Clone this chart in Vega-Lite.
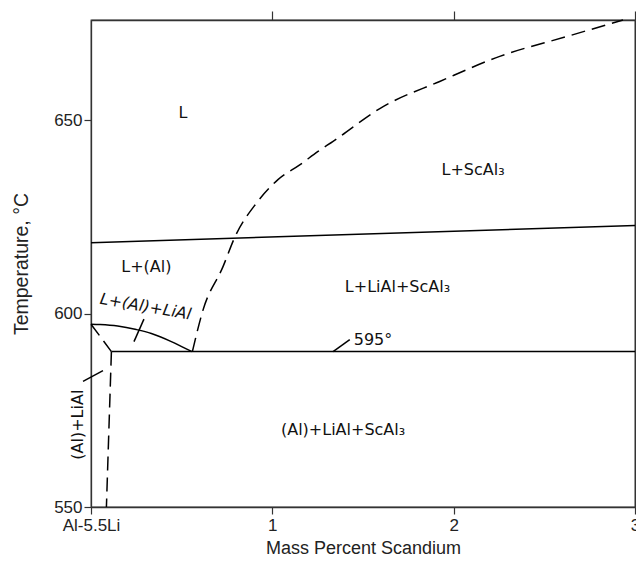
{
  "$schema": "https://vega.github.io/schema/vega-lite/v6.json",
  "width": 544,
  "height": 487,
  "autosize": {"type": "none"},
  "padding": {"left": 91, "top": 20, "right": 1, "bottom": 55},
  "background": "white",
  "config": {
    "view": {"stroke": "#444", "strokeWidth": 1.3},
    "font": "Liberation Sans",
    "axis": {"grid": false, "domainColor": "#333", "tickColor": "#333", "labelColor": "#222", "titleColor": "#222", "labelFont": "Liberation Sans", "titleFont": "Liberation Sans", "titleFontWeight": "normal", "labelFontSize": 17, "titleFontSize": 18, "tickSize": 7, "domainWidth": 1.3, "tickWidth": 1.2}
  },
  "datasets": {
    "solid": [
      {"c": "top", "i": 0, "x": 0, "y": 618.4},
      {"c": "top", "i": 1, "x": 3, "y": 622.8},
      {"c": "eut", "i": 0, "x": 0.1125, "y": 590.2},
      {"c": "eut", "i": 1, "x": 3, "y": 590.2},
      {"c": "liqAl", "i": 0, "x": 0, "y": 597.3},
      {"c": "liqAl", "i": 1, "x": 0.05, "y": 597.2},
      {"c": "liqAl", "i": 2, "x": 0.147, "y": 596.8},
      {"c": "liqAl", "i": 3, "x": 0.25, "y": 595.9},
      {"c": "liqAl", "i": 4, "x": 0.333, "y": 594.9},
      {"c": "liqAl", "i": 5, "x": 0.443, "y": 592.8},
      {"c": "liqAl", "i": 6, "x": 0.5, "y": 591.5},
      {"c": "liqAl", "i": 7, "x": 0.557, "y": 590.2},
      {"c": "lead1", "i": 0, "x": 0.292, "y": 598.6},
      {"c": "lead1", "i": 1, "x": 0.237, "y": 592.8},
      {"c": "lead2", "i": 0, "x": 1.335, "y": 590.2},
      {"c": "lead2", "i": 1, "x": 1.427, "y": 593.3},
      {"c": "lead3", "i": 0, "x": -0.044, "y": 582.5},
      {"c": "lead3", "i": 1, "x": 0.066, "y": 585.3}
    ],
    "dashed": [
      {"c": "d1", "i": 0, "x": 0, "y": 597.3},
      {"c": "d1", "i": 1, "x": 0.1125, "y": 590.2},
      {"c": "d2", "i": 0, "x": 0.1125, "y": 590.2},
      {"c": "d2", "i": 1, "x": 0.085, "y": 550},
      {"c": "liq", "i": 0, "x": 0.559, "y": 590.2},
      {"c": "liq", "i": 1, "x": 0.618, "y": 601.0},
      {"c": "liq", "i": 2, "x": 0.728, "y": 612.2},
      {"c": "liq", "i": 3, "x": 0.793, "y": 619.8},
      {"c": "liq", "i": 4, "x": 0.912, "y": 628.6},
      {"c": "liq", "i": 5, "x": 1.031, "y": 634.7},
      {"c": "liq", "i": 6, "x": 1.151, "y": 638.5},
      {"c": "liq", "i": 7, "x": 1.252, "y": 642.0},
      {"c": "liq", "i": 8, "x": 1.335, "y": 644.6},
      {"c": "liq", "i": 9, "x": 1.611, "y": 653.6},
      {"c": "liq", "i": 10, "x": 1.923, "y": 660.1},
      {"c": "liq", "i": 11, "x": 2.254, "y": 666.6},
      {"c": "liq", "i": 12, "x": 2.622, "y": 671.7},
      {"c": "liq", "i": 13, "x": 2.934, "y": 676.0}
    ],
    "labels": [
      {"t": "L", "x": 0.507, "y": 652.0},
      {"t": "L+ScAl₃", "x": 2.107, "y": 637.2},
      {"t": "L+(Al)", "x": 0.305, "y": 612.2},
      {"t": "L+LiAl+ScAl₃", "x": 1.69, "y": 607.0},
      {"t": "595°", "x": 1.555, "y": 593.1},
      {"t": "(Al)+LiAl+ScAl₃", "x": 1.39, "y": 570.0}
    ],
    "rotlabels": [
      {"t": "L+(Al)+LiAl", "x": 0.301, "y": 601.8}
    ],
    "vlabels": [
      {"t": "(Al)+LiAl", "x": -0.072, "y": 571.3}
    ]
  },
  "layer": [
    {
      "data": {"name": "solid"},
      "mark": {"type": "line", "color": "black", "strokeWidth": 1.5, "interpolate": "monotone", "clip": false},
      "encoding": {
        "x": {"field": "x", "type": "quantitative", "scale": {"domain": [0, 3], "nice": false, "zero": false},
          "axis": {"orient": "bottom", "values": [0, 1, 2, 3], "title": "Mass Percent Scandium", "titlePadding": 6, "labelPadding": 3,
            "labelExpr": "datum.value == 0 ? 'Al-5.5Li' : format(datum.value, 'd')", "labelFlush": false}},
        "y": {"field": "y", "type": "quantitative", "scale": {"domain": [550, 676], "nice": false, "zero": false},
          "axis": {"orient": "left", "values": [550, 600, 650], "title": "Temperature, °C", "titleFontSize": 19.5, "titlePadding": 22, "labelPadding": 2}},
        "detail": {"field": "c"},
        "order": {"field": "i"}
      }
    },
    {
      "data": {"name": "dashed"},
      "mark": {"type": "line", "color": "black", "strokeWidth": 1.5, "strokeDash": [14, 7], "interpolate": "monotone", "clip": false},
      "encoding": {
        "x": {"field": "x", "type": "quantitative", "axis": {"orient": "top", "values": [1, 2, 3], "labels": false, "title": null, "tickSize": 9}},
        "y": {"field": "y", "type": "quantitative", "axis": {"orient": "right", "values": [550, 600, 650], "labels": false, "title": null}},
        "detail": {"field": "c"},
        "order": {"field": "i"}
      }
    },
    {
      "data": {"name": "labels"},
      "mark": {"type": "text", "font": "DejaVu Sans", "fontSize": 16, "color": "#111", "baseline": "middle", "align": "center"},
      "encoding": {
        "x": {"field": "x", "type": "quantitative", "axis": null},
        "y": {"field": "y", "type": "quantitative", "axis": null},
        "text": {"field": "t"}
      }
    },
    {
      "data": {"name": "rotlabels"},
      "mark": {"type": "text", "font": "DejaVu Sans", "fontSize": 16, "fontStyle": "italic", "angle": 10, "color": "#111", "baseline": "middle", "align": "center"},
      "encoding": {
        "x": {"field": "x", "type": "quantitative", "axis": null},
        "y": {"field": "y", "type": "quantitative", "axis": null},
        "text": {"field": "t"}
      }
    },
    {
      "data": {"name": "vlabels"},
      "mark": {"type": "text", "font": "DejaVu Sans", "fontSize": 16, "angle": 270, "color": "#111", "baseline": "middle", "align": "center"},
      "encoding": {
        "x": {"field": "x", "type": "quantitative", "axis": null},
        "y": {"field": "y", "type": "quantitative", "axis": null},
        "text": {"field": "t"}
      }
    }
  ],
  "resolve": {"axis": {"x": "independent", "y": "independent"}}
}
